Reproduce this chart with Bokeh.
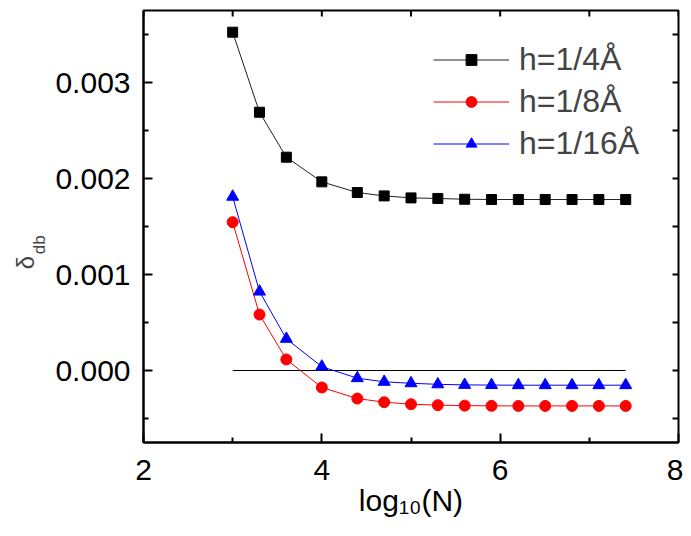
import math
from bokeh.plotting import figure
from bokeh.models import (FixedTicker, PrintfTickFormatter, Range1d,
                          Legend, LegendItem, Label)
from bokeh.embed import file_html
from bokeh.resources import INLINE

# ---- data ----
log10_N = [3.0, 3.301, 3.602, 4.0, 4.398, 4.699, 5.0, 5.301, 5.602, 5.903,
           6.204, 6.505, 6.806, 7.107, 7.408]
delta_h4 = [0.003524, 0.002690, 0.002222, 0.001965, 0.001854, 0.001819, 0.001798,
            0.001792, 0.001784, 0.001781, 0.001781, 0.001781, 0.001781, 0.001781, 0.001781]
delta_h8 = [0.001545, 0.000583, 0.000115, -0.000177, -0.000292, -0.000330, -0.000351,
            -0.000361, -0.000366, -0.000368, -0.000369, -0.000369, -0.000369, -0.000369, -0.000369]
delta_h16 = [0.001810, 0.000822, 0.000330, 0.000040, -0.000080, -0.000118, -0.000133,
             -0.000144, -0.000150, -0.000152, -0.000153, -0.000153, -0.000153, -0.000153, -0.000153]
zero_x = [3.0, 7.408]
zero_y = [0.0, 0.0]

series_labels = ["h=1/4Å", "h=1/8Å", "h=1/16Å"]
x_major = [2, 4, 6, 8]
x_minor = [3, 5, 7]
y_major = [0.0, 0.001, 0.002, 0.003]
y_minor = [-0.0005, 0.0005, 0.0015, 0.0025, 0.0035]
x_lo, x_hi = 2, 8
y_lo, y_hi = -0.00075, 0.00375

FONT = "Liberation Sans"

p = figure(width=683, height=528, output_backend="svg", toolbar_location=None,
           x_range=Range1d(x_lo, x_hi), y_range=Range1d(y_lo, y_hi),
           min_border_left=143, min_border_right=5, min_border_top=10, min_border_bottom=86)
p.outline_line_color = "black"
p.outline_line_width = 2
p.xgrid.visible = False
p.ygrid.visible = False
p.background_fill_color = "white"


def style_axis(ax, ticker):
    ax.ticker = ticker
    ax.axis_line_width = 2
    ax.axis_line_color = "black"
    ax.major_tick_line_width = 2
    ax.minor_tick_line_width = 2
    ax.major_tick_in = 9
    ax.major_tick_out = 0
    ax.minor_tick_in = 5
    ax.minor_tick_out = 0
    ax.major_label_text_font = FONT
    ax.major_label_text_color = "black"
    ax.major_label_text_font_size = "30px"


style_axis(p.xaxis[0], FixedTicker(ticks=x_major, minor_ticks=x_minor))
style_axis(p.yaxis[0], FixedTicker(ticks=y_major, minor_ticks=y_minor))
p.xaxis[0].major_label_standoff = 17
p.yaxis[0].major_label_standoff = 13
p.yaxis[0].formatter = PrintfTickFormatter(format="%.3f")

# x axis title with subscript digits
p.xaxis[0].axis_label = "log₁₀(N)"
p.xaxis[0].axis_label_text_font = FONT
p.xaxis[0].axis_label_text_font_size = "30px"
p.xaxis[0].axis_label_text_font_style = "normal"
p.xaxis[0].axis_label_text_color = "black"
p.xaxis[0].axis_label_standoff = 1

# mirrored tick marks on the top and right frame edges (dash markers centred on the
# edge; the outer half is clipped by the frame, leaving short inward ticks)
top_ticks = sorted(x_major + x_minor)
right_ticks = sorted(y_major + y_minor)
p.scatter(top_ticks, [y_hi] * len(top_ticks), marker="dash", size=12, angle=math.pi / 2,
          line_color="black", line_width=2)
p.scatter([x_hi] * len(right_ticks), right_ticks, marker="dash", size=12,
          line_color="black", line_width=2)

# zero reference line
p.line(zero_x, zero_y, line_color="black", line_width=1)

l4 = p.line(log10_N, delta_h4, line_color="#222222", line_width=1)
s4 = p.scatter(log10_N, delta_h4, marker="square", size=10, color="black")
l8 = p.line(log10_N, delta_h8, line_color="red", line_width=1)
s8 = p.scatter(log10_N, delta_h8, marker="circle", size=11, color="red")
l16 = p.line(log10_N, delta_h16, line_color="blue", line_width=1)
s16 = p.scatter(log10_N, delta_h16, marker="triangle", size=12, color="blue")

legend = Legend(items=[LegendItem(label=series_labels[0], renderers=[l4, s4]),
                       LegendItem(label=series_labels[1], renderers=[l8, s8]),
                       LegendItem(label=series_labels[2], renderers=[l16, s16])],
                location=(290, 280), border_line_color=None, background_fill_alpha=0,
                padding=0, margin=0, spacing=5, glyph_width=76, glyph_height=27,
                label_standoff=10, label_text_font=FONT, label_text_font_size="32px",
                label_height=37)
p.add_layout(legend, "center")

# y axis title δ with subscript "db", placed in the left panel so it is not clipped
p.add_layout(Label(x=0.676, y=0.001055, text="δ", text_font=FONT,
                   text_font_size="24px", text_baseline="alphabetic",
                   angle=math.pi / 2), "left")
p.add_layout(Label(x=0.837, y=0.001211, text="db", text_font=FONT,
                   text_font_size="17px", text_baseline="alphabetic",
                   angle=math.pi / 2), "left")

open("out.html", "w").write(file_html(p, INLINE))
